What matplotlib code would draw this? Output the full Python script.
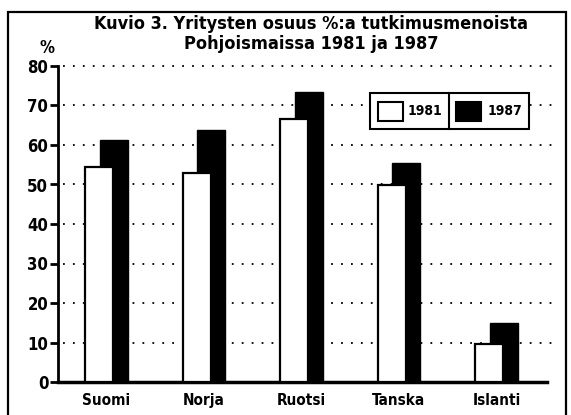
import matplotlib
matplotlib.use('Agg')
import matplotlib.pyplot as plt
from matplotlib.patches import Rectangle
from matplotlib.lines import Line2D

# data
countries = ['Suomi', 'Norja', 'Ruotsi', 'Tanska', 'Islanti']
share1981 = [54.5, 52.8, 66.7, 49.9, 9.6]
share1987 = [61.2, 63.8, 73.5, 55.4, 15.0]
yticks = [0, 10, 20, 30, 40, 50, 60, 70, 80]
years = ['1981', '1987']

W, H = 571, 415
font = {'family': 'DejaVu Sans', 'weight': 'bold', 'stretch': 'condensed'}

fig = plt.figure(figsize=(W / 100, H / 100), dpi=100)
ax = fig.add_axes([58 / W, 1 - 382 / H, (547 - 58) / W, (382 - 66) / H])

x = list(range(len(countries)))
off = 0.075
width = 0.29

# black bars behind, white bars in front
ax.bar([i + off for i in x], share1987, width, color='black', edgecolor='black',
       linewidth=1, zorder=2)
ax.bar([i - off for i in x], share1981, width, color='white', edgecolor='black',
       linewidth=1.6, zorder=3)

# dotted gridlines
for v in yticks[1:]:
    ax.axhline(v, xmin=0.01, xmax=1.02, color='black', linewidth=1.3,
               linestyle=(0, (1, 4.5)), zorder=1, clip_on=False)

ax.set_xlim(-0.497, 4.518)
ax.set_ylim(0, 80)
ax.set_yticks(yticks)
ax.set_yticklabels([str(v) for v in yticks], fontdict=font, fontsize=12)
ax.set_xticks(x)
ax.set_xticklabels(countries, fontdict=font, fontsize=11)
ax.tick_params(axis='y', length=6, width=2, pad=1)
ax.tick_params(axis='x', length=0, pad=8)
for s in ['top', 'right']:
    ax.spines[s].set_visible(False)
ax.spines['left'].set_linewidth(2)
ax.spines['bottom'].set_linewidth(2.5)

# title and unit
fig.text(311 / W, 1 - 24 / H, 'Kuvio 3. Yritysten osuus %:a tutkimusmenoista',
         ha='center', va='center', fontsize=13, **font)
fig.text(311 / W, 1 - 44 / H, 'Pohjoismaissa 1981 ja 1987',
         ha='center', va='center', fontsize=13, **font)
fig.text(47 / W, 1 - 48 / H, '%', ha='center', va='center', fontsize=12, **font)

# legend box drawn by hand
lx0, lx1, ly0, ly1 = 370, 529, 93, 129
fig.add_artist(Rectangle((lx0 / W, 1 - ly1 / H), (lx1 - lx0) / W, (ly1 - ly0) / H,
                         transform=fig.transFigure, facecolor='white',
                         edgecolor='black', linewidth=1.5, zorder=5))
fig.add_artist(Line2D([449 / W, 449 / W], [1 - ly1 / H, 1 - ly0 / H],
                      transform=fig.transFigure, color='black', linewidth=1.5, zorder=6))
fig.add_artist(Rectangle((378 / W, 1 - 121 / H), 25 / W, 19 / H,
                         transform=fig.transFigure, facecolor='white',
                         edgecolor='black', linewidth=1.5, zorder=6))
fig.add_artist(Rectangle((456 / W, 1 - 121 / H), 25 / W, 19 / H,
                         transform=fig.transFigure, facecolor='black',
                         edgecolor='black', linewidth=1.5, zorder=6))
fig.text(425 / W, 1 - 111 / H, years[0], ha='center', va='center', fontsize=10,
         zorder=7, **font)
fig.text(505 / W, 1 - 111 / H, years[1], ha='center', va='center', fontsize=10,
         zorder=7, **font)

# outer frame
fig.add_artist(Rectangle((8 / W, -0.02), (566 - 8) / W, 1.02 - 12 / H,
                         transform=fig.transFigure, fill=False,
                         edgecolor='black', linewidth=1.6))

fig.savefig('out.png', dpi=100)
